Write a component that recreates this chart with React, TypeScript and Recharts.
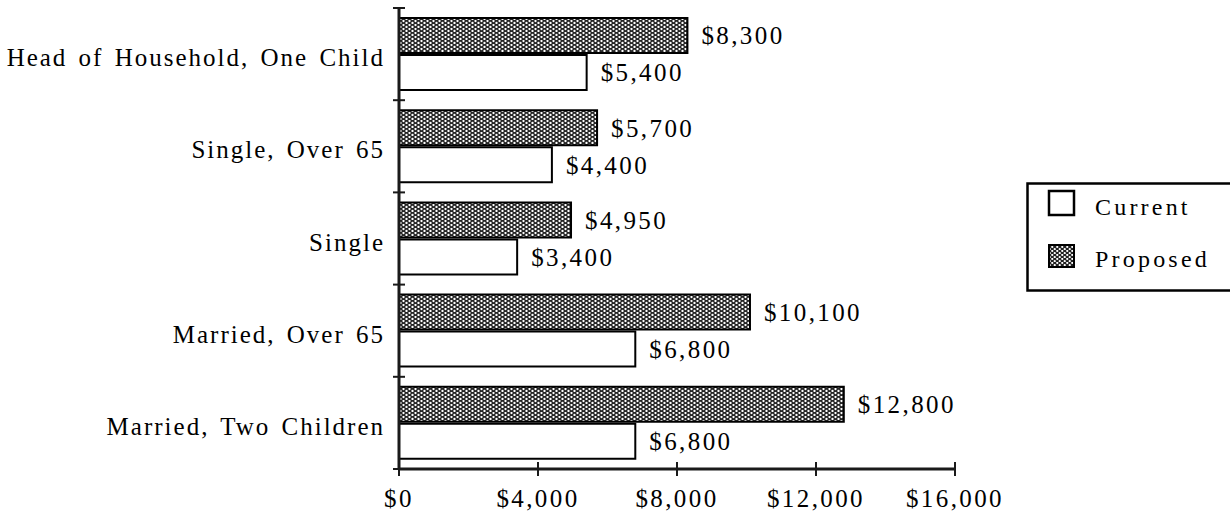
import React from "react";
import { BarChart, Bar, XAxis, YAxis, LabelList } from "recharts";

const categories = [
  "Head of Household, One Child",
  "Single, Over 65",
  "Single",
  "Married, Over 65",
  "Married, Two Children",
];
const proposed = [8300, 5700, 4950, 10100, 12800];
const current = [5400, 4400, 3400, 6800, 6800];
const xTicks = [0, 4000, 8000, 12000, 16000];

const data = categories.map((name, i) => ({
  name,
  proposed: proposed[i],
  current: current[i],
}));

const FONT = "'Liberation Serif', 'Times New Roman', serif";
const textStyle = { fontFamily: FONT, fontSize: 25, letterSpacing: 2.4, wordSpacing: 2 };
const catStyle = { fontFamily: FONT, fontSize: 25, letterSpacing: 2.0, wordSpacing: 3 };
const AXIS = "#1a1a1a";

const money = (v: number) => "$" + v.toLocaleString("en-US");

function XTick(props: any) {
  const { x, y, payload } = props;
  return (
    <g>
      <line x1={x} x2={x} y1={y - 7} y2={y + 7} stroke={AXIS} strokeWidth={2} />
      <text x={x} y={y + 38} textAnchor="middle" fill="#000" style={textStyle}>
        {money(payload.value)}
      </text>
    </g>
  );
}

function YTick(props: any) {
  const { x, y, payload, index, visibleTicksCount } = props;
  const half = payload.offset || 46;
  const last = index === (visibleTicksCount ?? 5) - 1;
  return (
    <g>
      <line x1={x - 6} x2={x + 6} y1={y - half} y2={y - half} stroke={AXIS} strokeWidth={2} />
      {last && <line x1={x - 6} x2={x + 6} y1={y + half} y2={y + half} stroke={AXIS} strokeWidth={2} />}
      <text x={x - 14} y={y + 12} textAnchor="end" fill="#000" style={catStyle}>
        {payload.value}
      </text>
    </g>
  );
}

export default function App() {
  return (
    <div style={{ position: "absolute", left: 0, top: 0, width: 1230, height: 523, background: "#fff" }}>
      <BarChart
        width={1230}
        height={523}
        data={data}
        layout="vertical"
        margin={{ top: 8, right: 275, bottom: 0, left: 0 }}
        barCategoryGap={10}
        barGap={2}
      >
        <defs>
          <pattern id="dots" width="6" height="4" patternUnits="userSpaceOnUse">
            <rect width="6" height="4" fill="#262626" />
            <circle cx="1.5" cy="1" r="1.15" fill="#fff" />
            <circle cx="4.5" cy="3" r="1.15" fill="#fff" />
          </pattern>
        </defs>
        <XAxis
          type="number"
          domain={[0, 16000]}
          ticks={xTicks}
          height={54}
          axisLine={{ stroke: AXIS, strokeWidth: 3 }}
          tickLine={false}
          tickSize={0}
          tickMargin={0}
          tick={<XTick />}
          interval={0}
        />
        <YAxis
          type="category"
          dataKey="name"
          width={399}
          axisLine={{ stroke: AXIS, strokeWidth: 3 }}
          tickLine={false}
          tickSize={0}
          tickMargin={0}
          tick={<YTick />}
          interval={0}
        />
        <Bar dataKey="proposed" fill="url(#dots)" stroke="#000" strokeWidth={2} isAnimationActive={false}>
          <LabelList dataKey="proposed" position="right" offset={14} formatter={(v: any) => money(Number(v))} style={{ ...textStyle, fill: "#000" }} />
        </Bar>
        <Bar dataKey="current" fill="#fff" stroke="#000" strokeWidth={2} isAnimationActive={false}>
          <LabelList dataKey="current" position="right" offset={14} formatter={(v: any) => money(Number(v))} style={{ ...textStyle, fill: "#000" }} />
        </Bar>
      </BarChart>
      <svg
        width={205}
        height={110}
        style={{ position: "absolute", left: 1026, top: 182 }}
      >
        <defs>
          <pattern id="dotsL" width="5" height="4" patternUnits="userSpaceOnUse">
            <rect width="5" height="4" fill="#222" />
            <circle cx="1.25" cy="1" r="1.1" fill="#fff" />
            <circle cx="3.75" cy="3" r="1.1" fill="#fff" />
          </pattern>
        </defs>
        <rect x={1.5} y={1.5} width={210} height={107} fill="#fff" stroke="#000" strokeWidth={2.5} />
        <rect x={23} y={9} width={25} height={24} fill="#fff" stroke="#000" strokeWidth={2.5} />
        <text x={69} y={33} fill="#000" style={{ fontFamily: FONT, fontSize: 24, letterSpacing: 3.2 }}>
          Current
        </text>
        <rect x={23} y={63} width={25} height={22} fill="url(#dotsL)" stroke="#000" strokeWidth={2} />
        <text x={69} y={85} fill="#000" style={{ fontFamily: FONT, fontSize: 24, letterSpacing: 3.2 }}>
          Proposed
        </text>
      </svg>
    </div>
  );
}
